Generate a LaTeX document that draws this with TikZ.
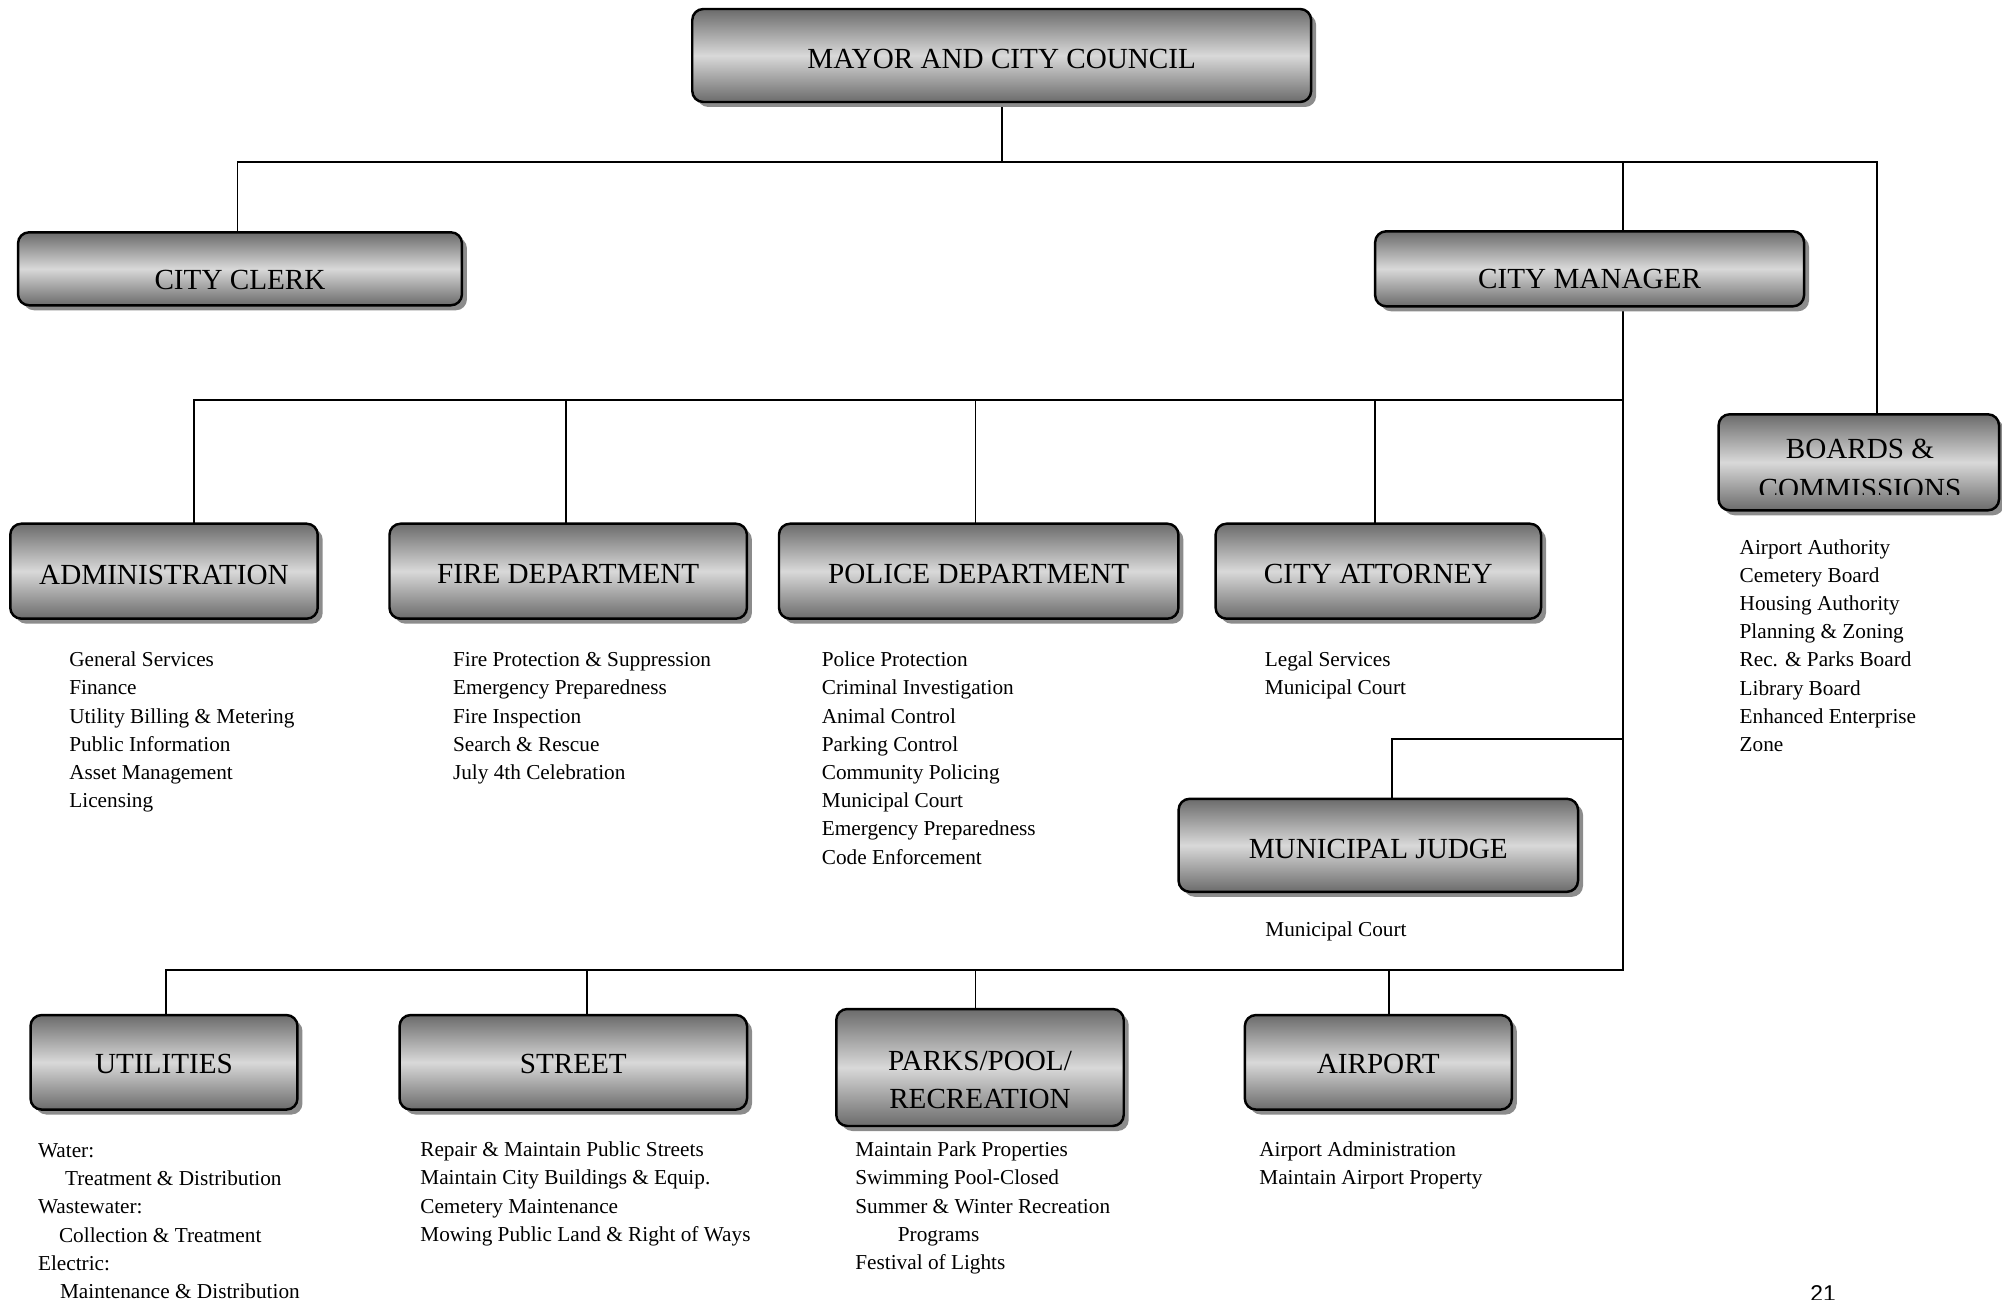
\documentclass[tikz,border=0pt]{standalone}
\usepackage{fontspec}
\setmainfont{Liberation Serif}
\newfontfamily\pagefont{Liberation Sans}
\usetikzlibrary{shadows,backgrounds}
\newcommand\itemlist[1]{\begin{tabular}[t]{@{}l@{}}#1\end{tabular}}
\begin{document}
\begin{tikzpicture}[x=0.02cm,y=-0.02cm,
  obox/.style={draw=black, line width=1.4pt, rounded corners=0.22cm,
    top color=black!58, bottom color=black!58, middle color=black!15,
    drop shadow={shadow xshift=0.1cm, shadow yshift=-0.1cm, fill=black!45, opacity=1},
    inner sep=0pt},
  ttl/.style={font=\fontsize{16.6}{19}\selectfont, inner sep=0pt, anchor=base},
  lst/.style={font=\fontsize{12.1}{16.05}\selectfont, inner sep=0pt, anchor=base west},
  conn/.style={line width=1.1pt, line cap=rect}]
\useasboundingbox (0,0) rectangle (2002,1299);

% ---- boxes ----
\node[obox, minimum width=12.38cm, minimum height=1.86cm] (mayor) at (1001.7,55.5) {};
\node[ttl] (mayorT) at (1001.7,68) {MAYOR AND CITY COUNCIL};

\node[obox, minimum width=8.88cm, minimum height=1.46cm] (clerk) at (240,268.8) {};
\node[ttl] (clerkT) at (240,289) {CITY CLERK};

\node[obox, minimum width=8.58cm, minimum height=1.5cm] (manager) at (1589.6,268.8) {};
\node[ttl] (managerT) at (1589.6,288) {CITY MANAGER};

\node[obox, minimum width=5.61cm, minimum height=1.92cm] (boards) at (1858.8,462.3) {};
\node[ttl] (boardsT) at (1860,458.5) {BOARDS \&};
\begin{scope}
  \clip (1719,415) rectangle (2002,494.3);
  \node[ttl] (boardsT2) at (1860,498.5) {COMMISSIONS};
\end{scope}

\node[obox, minimum width=6.15cm, minimum height=1.9cm] (admin) at (164,571.2) {};
\node[ttl] (adminT) at (164,584) {ADMINISTRATION};
\node[obox, minimum width=7.15cm, minimum height=1.9cm] (fire) at (568.2,571.2) {};
\node[ttl] (fireT) at (568.2,583.5) {FIRE DEPARTMENT};
\node[obox, minimum width=7.99cm, minimum height=1.9cm] (police) at (978.7,571.2) {};
\node[ttl] (policeT) at (978.7,583.5) {POLICE DEPARTMENT};
\node[obox, minimum width=6.51cm, minimum height=1.9cm] (attorney) at (1378.3,571.2) {};
\node[ttl] (attorneyT) at (1378.3,583.5) {CITY ATTORNEY};

\node[obox, minimum width=7.99cm, minimum height=1.86cm] (judge) at (1378.3,845.3) {};
\node[ttl] (judgeT) at (1378.3,858.3) {MUNICIPAL JUDGE};

\node[obox, minimum width=5.34cm, minimum height=1.89cm] (util) at (164,1062.3) {};
\node[ttl] (utilT) at (164,1073.3) {UTILITIES};
\node[obox, minimum width=6.95cm, minimum height=1.89cm] (street) at (573.3,1062.3) {};
\node[ttl] (streetT) at (573.3,1073.3) {STREET};
\node[obox, minimum width=5.75cm, minimum height=2.34cm] (parks) at (980,1067.5) {};
\node[ttl] (parksT) at (980,1070) {PARKS/POOL/};
\node[ttl] (parksT2) at (980,1108.3) {RECREATION};
\node[obox, minimum width=5.34cm, minimum height=1.89cm] (airport) at (1378.3,1062.3) {};
\node[ttl] (airportT) at (1378.3,1073.3) {AIRPORT};

% ---- lists ----
\node[lst] (adminL) at (69,666.7) {\itemlist{General Services\\Finance\\Utility Billing \& Metering\\Public Information\\Asset Management\\Licensing}};
\node[lst] (fireL) at (452.7,666.7) {\itemlist{Fire Protection \& Suppression\\Emergency Preparedness\\Fire Inspection\\Search \& Rescue\\July 4th Celebration}};
\node[lst] (policeL) at (821.5,666.7) {\itemlist{Police Protection\\Criminal Investigation\\Animal Control\\Parking Control\\Community Policing\\Municipal Court\\Emergency Preparedness\\Code Enforcement}};
\node[lst] (attorneyL) at (1264.5,666.7) {\itemlist{Legal Services\\Municipal Court}};
\node[lst] (boardsL) at (1739.3,554) {\itemlist{Airport Authority\\Cemetery Board\\Housing Authority\\Planning \& Zoning\\Rec. \& Parks Board\\Library Board\\Enhanced Enterprise\\Zone}};
\node[lst] (judgeL) at (1265,936.7) {Municipal Court};
\node[lst] (utilL) at (37.7,1157.5) {\itemlist{Water:\\\hspace*{0.54cm}Treatment \& Distribution\\Wastewater:\\\hspace*{0.42cm}Collection \& Treatment\\Electric:\\\hspace*{0.44cm}Maintenance \& Distribution}};
\node[lst] (streetL) at (420,1156.7) {\itemlist{Repair \& Maintain Public Streets\\Maintain City Buildings \& Equip.\\Cemetery Maintenance\\Mowing Public Land \& Right of Ways}};
\node[lst] (parksL) at (855,1156.7) {\itemlist{Maintain Park Properties\\Swimming Pool-Closed\\Summer \& Winter Recreation\\\hspace*{0.85cm}Programs\\Festival of Lights}};
\node[lst] (airportL) at (1259,1156.7) {\itemlist{Airport Administration\\Maintain Airport Property}};

\node[font=\pagefont\fontsize{13}{15}\selectfont, inner sep=0pt, anchor=base west] (pg) at (1810,1301) {21};

% ---- connectors ----
\begin{scope}[on background layer]
  \coordinate (tL) at (237.5,162.2);
  \coordinate (tR) at (1876.9,162.2);
  \coordinate (mT) at (1622.8,162.2);
  \coordinate (mB) at (1622.8,970.4);
  \draw[conn] (mayor.south) -- (mayor.south |- tL);
  \draw[conn] (tL) -- (tR);
  \draw[conn] (tL) -- (tL |- clerk.north);
  \draw[conn] (tR) -- (tR |- boards.north);
  \draw[conn] (mT) -- (mB);
  % second level
  \coordinate (sL) at (194.1,399.6);
  \coordinate (sR) at (1622.8,399.6);
  \coordinate (dF) at (565.6,399.6);
  \coordinate (dP) at (975.5,399.6);
  \coordinate (dC) at (1375.1,399.6);
  \draw[conn] (sL) -- (sR);
  \draw[conn] (sL) -- (sL |- admin.north);
  \draw[conn] (dF) -- (dF |- fire.north);
  \draw[conn] (dP) -- (dP |- police.north);
  \draw[conn] (dC) -- (dC |- attorney.north);
  % judge
  \coordinate (jA) at (1622.8,739.3);
  \coordinate (jB) at (1391.7,739.3);
  \draw[conn] (jA) -- (jB) -- (jB |- judge.north);
  % bottom level
  \coordinate (bL) at (166,970.4);
  \coordinate (bS) at (587.3,970.4);
  \coordinate (bP) at (975.5,970.4);
  \coordinate (bA) at (1389.2,970.4);
  \draw[conn] (bL) -- (mB);
  \draw[conn] (bL) -- (bL |- util.north);
  \draw[conn] (bS) -- (bS |- street.north);
  \draw[conn] (bP) -- (bP |- parks.north);
  \draw[conn] (bA) -- (bA |- airport.north);
\end{scope}
\end{tikzpicture}
\end{document}
